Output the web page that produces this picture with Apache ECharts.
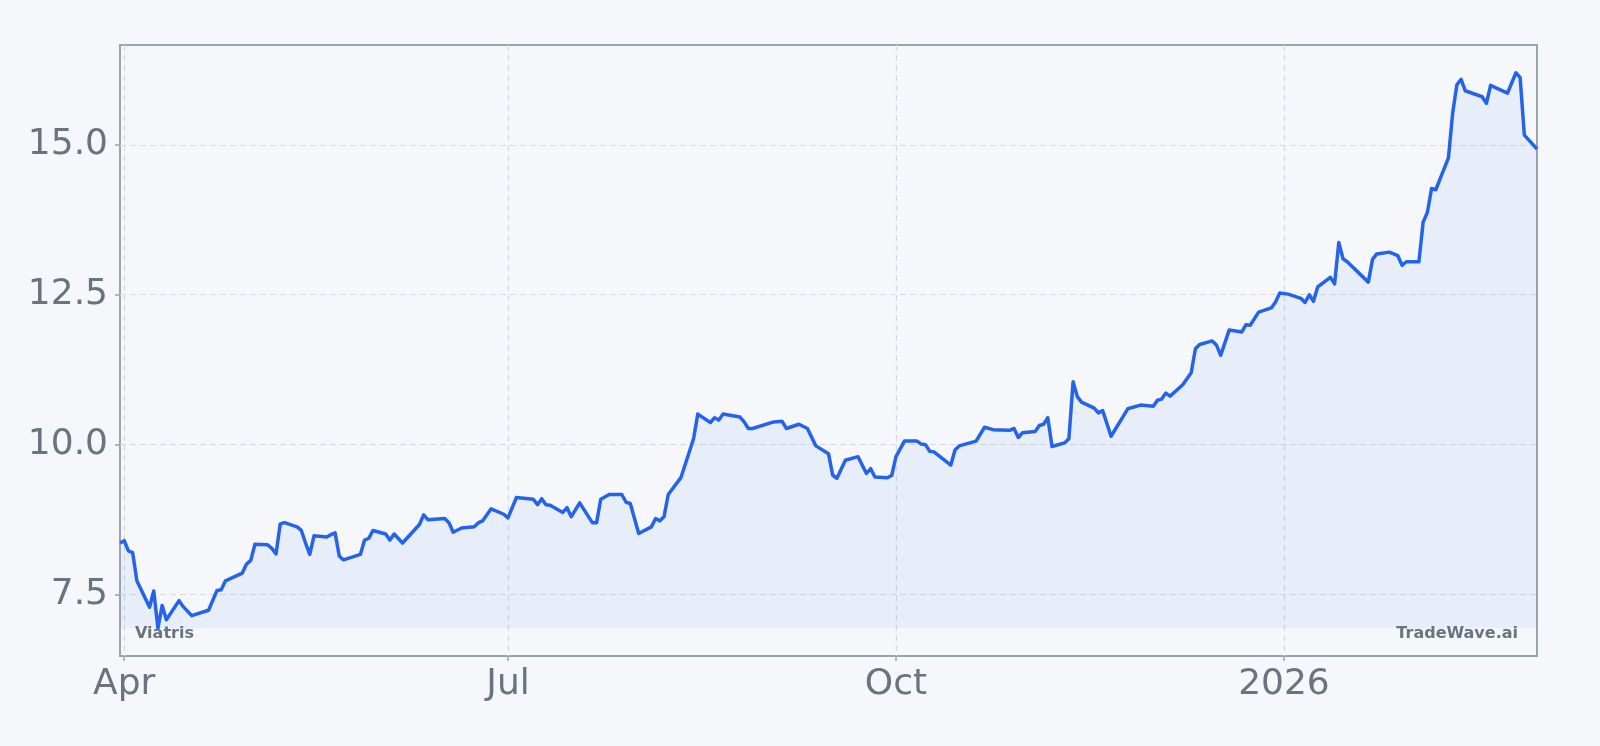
<!DOCTYPE html>
<html>
<head>
<meta charset="utf-8">
<script src="https://cdn.jsdelivr.net/npm/echarts@6/dist/echarts.min.js"></script>
<style>
html,body{margin:0;padding:0;background:#f5f7fa;}
#chart{width:1600px;height:746px;}
</style>
</head>
<body>
<div id="chart"></div>
<script>
const dates = [
'2025-03-31','2025-04-01','2025-04-02','2025-04-03','2025-04-04','2025-04-07','2025-04-08','2025-04-09','2025-04-10','2025-04-11',
'2025-04-14','2025-04-15','2025-04-17','2025-04-21','2025-04-23','2025-04-24','2025-04-25','2025-04-29','2025-04-30','2025-05-01',
'2025-05-02','2025-05-05','2025-05-06','2025-05-07','2025-05-08','2025-05-09','2025-05-12','2025-05-13','2025-05-14','2025-05-15',
'2025-05-16','2025-05-19','2025-05-20','2025-05-21','2025-05-22','2025-05-23','2025-05-27','2025-05-28','2025-05-29','2025-05-30',
'2025-06-02','2025-06-03','2025-06-04','2025-06-06','2025-06-10','2025-06-11','2025-06-12','2025-06-16','2025-06-17','2025-06-18',
'2025-06-20','2025-06-23','2025-06-24','2025-06-25','2025-06-27','2025-06-30','2025-07-01','2025-07-03','2025-07-07','2025-07-08',
'2025-07-09','2025-07-10','2025-07-11','2025-07-14','2025-07-15','2025-07-16','2025-07-18','2025-07-21','2025-07-22','2025-07-23',
'2025-07-25','2025-07-28','2025-07-29','2025-07-30','2025-08-01','2025-08-04','2025-08-05','2025-08-06','2025-08-07','2025-08-08',
'2025-08-11','2025-08-14','2025-08-15','2025-08-18','2025-08-19','2025-08-20','2025-08-21','2025-08-25','2025-08-26','2025-08-27',
'2025-08-28','2025-09-02','2025-09-04','2025-09-05','2025-09-08','2025-09-10','2025-09-12','2025-09-15','2025-09-16','2025-09-17',
'2025-09-19','2025-09-22','2025-09-24','2025-09-25','2025-09-26','2025-09-29','2025-09-30','2025-10-01','2025-10-03','2025-10-06',
'2025-10-07','2025-10-08','2025-10-09','2025-10-10','2025-10-14','2025-10-15','2025-10-16','2025-10-20','2025-10-22','2025-10-24',
'2025-10-28','2025-10-29','2025-10-30','2025-10-31','2025-11-03','2025-11-04','2025-11-05','2025-11-06','2025-11-07','2025-11-10',
'2025-11-11','2025-11-12','2025-11-13','2025-11-14','2025-11-17','2025-11-18','2025-11-19','2025-11-21','2025-11-25','2025-11-26',
'2025-11-28','2025-12-01','2025-12-02','2025-12-03','2025-12-04','2025-12-05','2025-12-08','2025-12-10','2025-12-11','2025-12-12',
'2025-12-15','2025-12-16','2025-12-17','2025-12-19','2025-12-22','2025-12-23','2025-12-24','2025-12-26','2025-12-29','2025-12-30',
'2025-12-31','2026-01-02','2026-01-05','2026-01-06','2026-01-07','2026-01-08','2026-01-09','2026-01-12','2026-01-13','2026-01-14',
'2026-01-15','2026-01-16','2026-01-21','2026-01-22','2026-01-23','2026-01-26','2026-01-28','2026-01-29','2026-01-30','2026-02-02',
'2026-02-03','2026-02-04','2026-02-05','2026-02-06','2026-02-09','2026-02-10','2026-02-11','2026-02-12','2026-02-13','2026-02-17',
'2026-02-18','2026-02-19','2026-02-23','2026-02-25','2026-02-26','2026-02-27','2026-03-02'
];
const prices = [
8.36,8.40,8.23,8.20,7.73,7.29,7.56,6.94,7.32,7.08,
7.40,7.30,7.15,7.24,7.57,7.58,7.73,7.86,8.01,8.07,
8.34,8.33,8.27,8.18,8.68,8.70,8.63,8.57,8.36,8.17,
8.48,8.46,8.50,8.53,8.14,8.08,8.17,8.41,8.44,8.57,
8.51,8.41,8.51,8.36,8.67,8.83,8.75,8.77,8.70,8.54,
8.61,8.63,8.70,8.73,8.93,8.84,8.78,9.12,9.09,9.00,
9.10,9.00,8.99,8.87,8.95,8.80,9.03,8.70,8.70,9.09,
9.17,9.17,9.04,9.02,8.52,8.63,8.77,8.73,8.80,9.17,
9.45,10.10,10.51,10.37,10.45,10.41,10.51,10.46,10.38,10.27,
10.27,10.38,10.39,10.27,10.34,10.27,9.98,9.85,9.49,9.44,
9.74,9.80,9.52,9.60,9.46,9.45,9.49,9.80,10.06,10.06,
10.01,10.00,9.89,9.88,9.66,9.91,9.98,10.06,10.29,10.25,
10.24,10.27,10.12,10.20,10.22,10.32,10.34,10.45,9.97,10.03,
10.10,11.05,10.80,10.71,10.61,10.53,10.57,10.14,10.60,10.62,
10.66,10.64,10.74,10.76,10.86,10.81,11.00,11.20,11.60,11.67,
11.73,11.66,11.49,11.91,11.88,12.00,11.99,12.21,12.28,12.38,
12.53,12.51,12.44,12.37,12.50,12.39,12.63,12.79,12.68,13.37,
13.10,13.05,12.71,13.09,13.18,13.21,13.15,12.99,13.05,13.05,
13.71,13.87,14.27,14.25,14.78,15.53,16.00,16.09,15.90,15.80,
15.69,15.99,15.86,16.20,16.12,15.16,14.93
];
const yTicks = [7.5, 10.0, 12.5, 15.0];
const xTickDates = ['2025-04-01','2025-07-01','2025-10-01','2026-01-01'];
const xTickLabels = ['Apr','Jul','Oct','2026'];
const leftMark = 'Viatris';
const rightMark = 'TradeWave.ai';

function toTime(s){ return new Date(s.replace(/-/g,'/')).getTime(); }
const xTickTimes = xTickDates.map(toTime);
const seriesData = dates.map((d,i)=>[toTime(d), prices[i]]);
const dMin = Math.min.apply(null, prices), dMax = Math.max.apply(null, prices);
const pad = (dMax - dMin) * 0.05;

const labelColor = '#6b7280';
const chart = echarts.init(document.getElementById('chart'), null, {renderer:'canvas'});
chart.setOption({
  backgroundColor: '#f5f7fa',
  animation: false,
  grid: {left:120, right:63, top:45, bottom:90, show:true, borderColor:'#9ca3af', borderWidth:2, backgroundColor:'#f5f7fa'},
  xAxis: {
    type:'value',
    min: seriesData[0][0], max: seriesData[seriesData.length-1][0],
    axisLine:{show:false},
    axisTick:{show:true, length:5, lineStyle:{color:'#9ca3af', width:1.5}, customValues: xTickTimes},
    axisLabel:{customValues: xTickTimes, margin:11, color:labelColor, fontSize:36, fontFamily:'DejaVu Sans',
      formatter: function(v){ let best=0; for(let i=0;i<xTickTimes.length;i++){ if(Math.abs(xTickTimes[i]-v)<Math.abs(xTickTimes[best]-v)) best=i; } return xTickLabels[best]; }},
    splitLine:{show:true, lineStyle:{color:'#d6dae0', width:1.2, type:[6,4]}}
  },
  yAxis: {
    type:'value',
    min: dMin - pad, max: dMax + pad,
    axisLine:{show:false},
    axisTick:{show:true, length:5, lineStyle:{color:'#9ca3af', width:1.5}, customValues: yTicks},
    axisLabel:{customValues: yTicks, margin:12, color:labelColor, fontSize:36, fontFamily:'DejaVu Sans', padding:[3,0,0,0],
      formatter: function(v){ return v.toFixed(1); }},
    splitLine:{show:true, lineStyle:{color:'#d6dae0', width:1.2, type:[6,4]}}
  },
  series: [{
    type:'line',
    data: seriesData,
    showSymbol:false,
    lineStyle:{color:'#2563eb', width:3.5, join:'round'},
    areaStyle:{color:'rgba(59,130,246,0.1)', origin: dMin},
    z:3
  }],
  graphic: [
    {type:'text', x:135, y:634, z:10, style:{text:leftMark, fill:labelColor, font:'bold 16px "DejaVu Sans"', align:'left', verticalAlign:'middle'}},
    {type:'text', x:1518, y:634, z:10, style:{text:rightMark, fill:labelColor, font:'bold 16px "DejaVu Sans"', align:'right', verticalAlign:'middle'}}
  ]
});
</script>
</body>
</html>
